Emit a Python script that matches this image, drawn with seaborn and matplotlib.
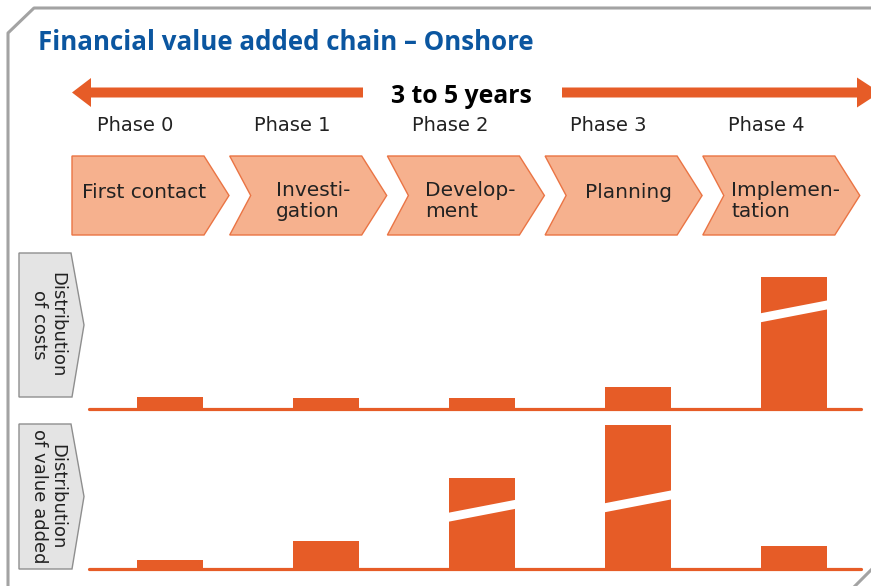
import matplotlib
matplotlib.use("Agg")
import matplotlib.pyplot as plt
from matplotlib.patches import Polygon
import seaborn as sns
import pandas as pd

# ---- data ----
phases = ["Phase 0", "Phase 1", "Phase 2", "Phase 3", "Phase 4"]
steps = ["First contact", "Investi-\ngation", "Develop-\nment", "Planning", "Implemen-\ntation"]
cost_share = [12, 11, 11, 22, 132]
value_share = [9, 28, 91, 144, 23]
cost_break_at = [None, None, None, None, 0.74]
value_break_at = [None, None, 0.64, 0.47, None]
title = "Financial value added chain \u2013 Onshore"
duration = "3 to 5 years"
row_labels = ["Distribution\nof costs", "Distribution\nof value added"]

ORANGE = "#e65c27"
SALMON = "#f6b18e"
BLUE = "#0b56a0"
GREY_FILL = "#e4e4e4"
GREY_EDGE = "#8e8e8e"
FRAME = "#a3a3a3"
TXT = "#222222"

sns.set_style("white")
plt.rcParams["font.family"] = ["DejaVu Sans"]

W, H = 871, 586
fig = plt.figure(figsize=(W / 100, H / 100), dpi=100)
fig.patch.set_facecolor("white")

bg = fig.add_axes([0, 0, 1, 1])
bg.set_xlim(0, W)
bg.set_ylim(H, 0)
bg.axis("off")
renderer = fig.canvas.get_renderer()


def fit_width(txt, target_px):
    w = txt.get_window_extent(renderer=renderer).width
    txt.set_fontsize(txt.get_fontsize() * target_px / w)


# frame with cut corners
bg.plot([8, 8, 34, 880], [600, 33, 8, 8], color=FRAME, lw=2.2, solid_capstyle="butt")
bg.plot([853, 875], [588, 566], color=FRAME, lw=2.2)

# title
t = bg.text(38, 50, title, color=BLUE, fontsize=17, fontweight="bold",
            family=["Open Sans", "DejaVu Sans"], va="baseline", ha="left")
fit_width(t, 495)

# duration arrows
bg.add_patch(Polygon([(72, 92.5), (91, 78), (91, 87.5), (363, 87.5), (363, 97.5),
                      (91, 97.5), (91, 107)], closed=True, color=ORANGE, lw=0))
bg.add_patch(Polygon([(562, 87.5), (857, 87.5), (857, 77.5), (880, 92.5),
                      (857, 107.5), (857, 97.5), (562, 97.5)], closed=True, color=ORANGE, lw=0))
d = bg.text(461, 103, duration, fontsize=17, fontweight="bold", color="black",
            family=["Open Sans", "DejaVu Sans"], ha="center", va="baseline")
fit_width(d, 141)

# phases + chevrons
pitch = 157.7
top, bot = 156, 235
mid = (top + bot) / 2
for i, (ph, st) in enumerate(zip(phases, steps)):
    x0 = 72 + pitch * i
    bg.text(x0 + 63, 131, ph, fontsize=14, color=TXT, ha="center", va="baseline")
    pts = [(x0, top), (x0 + 132, top), (x0 + 157, mid), (x0 + 132, bot), (x0, bot)]
    if i > 0:
        pts.append((x0 + 21, mid))
    bg.add_patch(Polygon(pts, closed=True, facecolor=SALMON, edgecolor="#ea7444", lw=1.0))
    cx = x0 + 72 + (11 if i > 0 else 0)
    two = "\n" in st
    bg.text(cx, 201 if two else 193, st, fontsize=14.5, color=TXT, ha="center",
            va="center", multialignment="left", linespacing=1.15)

# row label boxes
for lab, (ytop, ybot) in zip(row_labels, [(253, 397), (424, 569)]):
    ym = (ytop + ybot) / 2
    bg.add_patch(Polygon([(19, ytop), (71, ytop), (84, ym), (72, ybot), (19, ybot)],
                         closed=True, facecolor=GREY_FILL, edgecolor=GREY_EDGE, lw=1.0))
    bg.text(48, ym, lab, fontsize=13, color=TXT, rotation=270, ha="center", va="center",
            multialignment="center", linespacing=1.05)

# bar panels
def frac_box(x1, y1, x2, y2):
    return [x1 / W, (H - y2) / H, (x2 - x1) / W, (y2 - y1) / H]

df = pd.DataFrame({"phase": phases, "costs": cost_share, "value": value_share})
RISE, GAP = 14, 9
for col, breaks, (ytop, ybase) in [("costs", cost_break_at, (260, 409)),
                                    ("value", value_break_at, (420, 569))]:
    ax = fig.add_axes(frac_box(89, ytop, 861, ybase))
    ax.set_facecolor("none")
    sns.barplot(data=df, x="phase", y=col, color=ORANGE, saturation=1, width=0.425,
                ax=ax, linewidth=0)
    ax.set_xlim(-0.519, 4.429)
    ax.set_ylim(0, ybase - ytop)
    ax.axis("off")
    ax.axhline(0, color=ORANGE, lw=2.3, clip_on=False)
    for p, b in zip(ax.patches, breaks):
        if b is None:
            continue
        x1 = p.get_x() - 0.02
        x2 = p.get_x() + p.get_width() + 0.02
        yc = b * p.get_height()
        yl, yr = yc - RISE / 2, yc + RISE / 2
        ax.add_patch(Polygon([(x1, yl - GAP / 2), (x2, yr - GAP / 2),
                              (x2, yr + GAP / 2), (x1, yl + GAP / 2)],
                             closed=True, facecolor="white", edgecolor="none", zorder=5))

fig.savefig("out.png", dpi=100, facecolor="white")
